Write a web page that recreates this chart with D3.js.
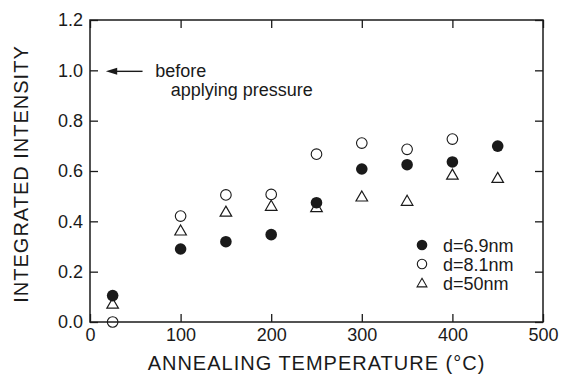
<!DOCTYPE html>
<html>
<head>
<meta charset="utf-8">
<script src="https://cdn.jsdelivr.net/npm/d3@7"></script>
<style>
  html, body { margin: 0; padding: 0; background: #fff; overflow: hidden; }
  svg { display: block; }
  svg text { font-family: 'Liberation Sans', Arial, sans-serif; }
</style>
</head>
<body>
<div id="chart"></div>
<script>
// temperatures (°C)
const temps = [25, 100, 150, 200, 250, 300, 350, 400, 450];
const d69 = [0.105, 0.29, 0.319, 0.347, 0.474, 0.608, 0.625, 0.636, 0.699];
const temps81 = [25, 100, 150, 200, 250, 300, 350, 400];
const d81 = [0.0, 0.421, 0.505, 0.507, 0.667, 0.711, 0.686, 0.727];
const d50 = [0.072, 0.363, 0.438, 0.461, 0.456, 0.498, 0.481, 0.585, 0.572];
const xTicks = [0, 100, 200, 300, 400, 500];
const yTicks = [0.0, 0.2, 0.4, 0.6, 0.8, 1.0, 1.2];
const legendLabels = ['d=6.9nm', 'd=8.1nm', 'd=50nm'];

const width = 561;
const height = 382;
const margin = { top: 20, right: 18, bottom: 60, left: 90 };
const innerWidth = width - margin.left - margin.right;
const innerHeight = height - margin.top - margin.bottom;
const ink = '#1a1a1a';

const x = d3.scaleLinear().domain([0, 500]).range([0, innerWidth]);
const y = d3.scaleLinear().domain([0, 1.2]).range([innerHeight, 0]);

const svg = d3.select('#chart')
  .append('svg')
  .attr('width', width)
  .attr('height', height);

const plot = svg.append('g')
  .attr('transform', `translate(${margin.left},${margin.top})`);

// inward ticks on all four sides
const styleAxis = (g) => {
  g.attr('font-family', null).attr('font-size', null);
  g.select('.domain').remove();
  g.selectAll('line').attr('stroke', ink).attr('stroke-width', 1.3);
  g.selectAll('text').attr('fill', ink).attr('font-size', 18);
};
const noLabels = (g) => g.selectAll('text').remove();

plot.append('g')
  .attr('transform', `translate(0,${innerHeight})`)
  .call(d3.axisBottom(x).tickValues(xTicks).tickSizeInner(-8).tickSizeOuter(0).tickPadding(6).tickFormat(d3.format('d')))
  .call(styleAxis);

plot.append('g')
  .call(d3.axisTop(x).tickValues(xTicks).tickSizeInner(-8).tickSizeOuter(0))
  .call(styleAxis)
  .call(noLabels);

plot.append('g')
  .call(d3.axisLeft(y).tickValues(yTicks).tickSizeInner(-8).tickSizeOuter(0).tickPadding(7).tickFormat(d3.format('.1f')))
  .call(styleAxis);

plot.append('g')
  .attr('transform', `translate(${innerWidth},0)`)
  .call(d3.axisRight(y).tickValues(yTicks).tickSizeInner(-8).tickSizeOuter(0))
  .call(styleAxis)
  .call(noLabels);

plot.append('rect')
  .attr('width', innerWidth)
  .attr('height', innerHeight)
  .attr('fill', 'none')
  .attr('stroke', ink)
  .attr('stroke-width', 1.5);

// axis titles
svg.append('text')
  .attr('x', margin.left + innerWidth / 2)
  .attr('y', 370)
  .attr('text-anchor', 'middle')
  .attr('font-size', 20)
  .attr('letter-spacing', 1)
  .attr('fill', ink)
  .text('ANNEALING TEMPERATURE (°C)');

svg.append('text')
  .attr('transform', `translate(28,${margin.top + innerHeight / 2 + 3}) rotate(-90)`)
  .attr('text-anchor', 'middle')
  .attr('font-size', 20)
  .attr('letter-spacing', 1)
  .attr('fill', ink)
  .text('INTEGRATED INTENSITY');

// annotation arrow
const arrowY = y(1.0) + 1;
plot.append('line')
  .attr('x1', x(58)).attr('y1', arrowY)
  .attr('x2', x(25)).attr('y2', arrowY)
  .attr('stroke', ink)
  .attr('stroke-width', 1.4);

plot.append('path')
  .attr('d', d3.line()([[x(17.5), arrowY], [x(30), arrowY - 3.5], [x(30), arrowY + 3.5]]) + 'Z')
  .attr('fill', ink);

plot.append('text')
  .attr('x', x(72)).attr('y', y(1.0) + 7)
  .attr('font-size', 18).attr('fill', ink)
  .text('before');

plot.append('text')
  .attr('x', x(89)).attr('y', y(1.0) + 26)
  .attr('font-size', 18).attr('fill', ink)
  .text('applying pressure');

// markers
const tri = d3.symbol().type(d3.symbolTriangle).size(58);

plot.selectAll('.s50')
  .data(temps.map((t, i) => [t, d50[i]]))
  .join('path')
  .attr('class', 's50')
  .attr('transform', (d) => `translate(${x(d[0])},${y(d[1]) + 1})`)
  .attr('d', tri)
  .attr('fill', 'none')
  .attr('stroke', ink)
  .attr('stroke-width', 1.2);

plot.selectAll('.s81')
  .data(temps81.map((t, i) => [t, d81[i]]))
  .join('circle')
  .attr('class', 's81')
  .attr('cx', (d) => x(d[0]))
  .attr('cy', (d) => y(d[1]))
  .attr('r', 5.3)
  .attr('fill', 'none')
  .attr('stroke', ink)
  .attr('stroke-width', 1.1);

plot.selectAll('.s69')
  .data(temps.map((t, i) => [t, d69[i]]))
  .join('circle')
  .attr('class', 's69')
  .attr('cx', (d) => x(d[0]))
  .attr('cy', (d) => y(d[1]))
  .attr('r', 5.8)
  .attr('fill', ink);

// legend
const legend = svg.append('g').attr('transform', 'translate(422,245)');
legendLabels.forEach((label, i) => {
  const row = legend.append('g').attr('transform', `translate(0,${i * 19})`);
  if (i === 0) {
    row.append('circle').attr('r', 5.3).attr('fill', ink);
  } else if (i === 1) {
    row.append('circle').attr('r', 4.7).attr('fill', 'none').attr('stroke', ink).attr('stroke-width', 1.1);
  } else {
    row.append('path').attr('d', d3.symbol().type(d3.symbolTriangle).size(42)).attr('transform', 'translate(0,1)')
      .attr('fill', 'none').attr('stroke', ink).attr('stroke-width', 1.1);
  }
  row.append('text')
    .attr('x', 21).attr('y', 6.5)
    .attr('font-size', 18).attr('fill', ink)
    .text(label);
});
</script>
</body>
</html>
